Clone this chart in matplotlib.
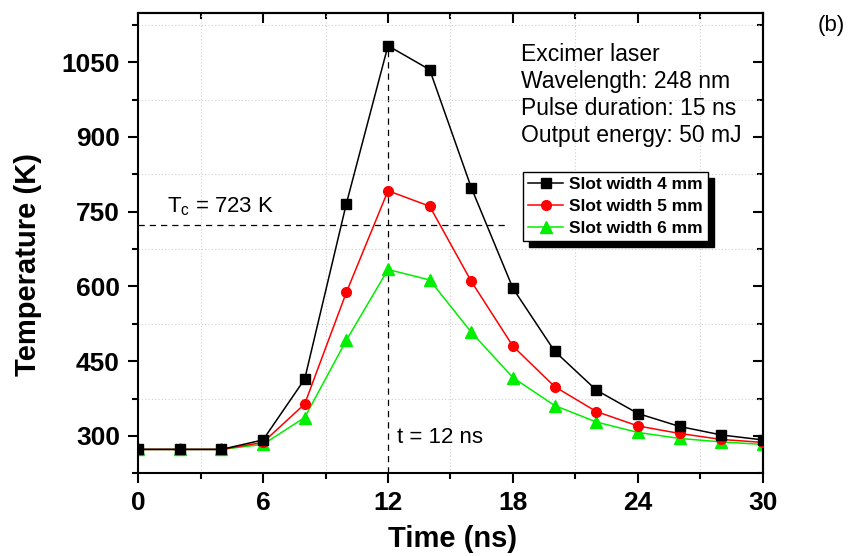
import matplotlib
matplotlib.use("Agg")
import matplotlib.pyplot as plt
from matplotlib.ticker import MultipleLocator

plt.rcParams['font.family'] = ['Liberation Sans', 'DejaVu Sans']
plt.rcParams['mathtext.fontset'] = 'custom'
plt.rcParams['mathtext.rm'] = 'Liberation Sans'

# Time axis (ns)
time_ns = [0, 2, 4, 6, 8, 10, 12, 14, 16, 18, 20, 22, 24, 26, 28, 30]

# Temperature (K) for each slot width
temp_4mm = [273, 273, 273, 292, 414, 766, 1083, 1035, 798, 596, 470, 392, 345, 319, 302, 292]
temp_5mm = [273, 273, 273, 287, 364, 588, 792, 761, 610, 480, 399, 349, 320, 305, 293, 287]
temp_6mm = [273, 273, 273, 283, 337, 492, 634, 613, 508, 417, 361, 328, 307, 295, 288, 283]

series_labels = ['Slot width 4 mm', 'Slot width 5 mm', 'Slot width 6 mm']

critical_temp = 723
peak_time = 12
peak_temp = 1083

fig = plt.figure(figsize=(8.52, 5.56), dpi=100)
ax = fig.add_axes([0.162, 0.1487, 0.7335, 0.8273])

ax.plot(time_ns, temp_4mm, color='black', marker='s', ms=6.5, lw=1.1,
        label=series_labels[0], zorder=4)
ax.plot(time_ns, temp_5mm, color='red', marker='o', ms=7, lw=1.1,
        label=series_labels[1], zorder=3)
ax.plot(time_ns, temp_6mm, color='#00ee00', marker='^', ms=8, lw=1.1,
        label=series_labels[2], zorder=2)

# Reference lines for the critical temperature and the peak time
ax.plot([0, 17.7], [critical_temp, critical_temp], color='black', lw=0.9,
        ls=(0, (5, 4)), zorder=1)
ax.plot([peak_time, peak_time], [225, peak_temp], color='black', lw=0.9,
        ls=(0, (5, 4)), zorder=1)

ax.set_xlim(0, 30)
ax.set_ylim(225, 1148)
ax.xaxis.set_major_locator(MultipleLocator(6))
ax.xaxis.set_minor_locator(MultipleLocator(3))
ax.yaxis.set_major_locator(MultipleLocator(150))
ax.yaxis.set_minor_locator(MultipleLocator(75))

ax.grid(which='minor', ls=(0, (1, 2)), color='#cfcfcf', lw=0.8)
ax.grid(which='major', visible=False)

for s in ax.spines.values():
    s.set_linewidth(1.5)

ax.tick_params(which='both', direction='out', width=1.5, labelsize=19, pad=6)
ax.tick_params(which='major', length=7)
ax.tick_params(which='minor', length=4.5)
for lab in ax.get_xticklabels() + ax.get_yticklabels():
    lab.set_fontweight('bold')

# Inward ticks on the top and right edges
top = ax.secondary_xaxis('top')
top.xaxis.set_major_locator(MultipleLocator(6))
top.xaxis.set_minor_locator(MultipleLocator(3))
top.tick_params(which='both', direction='in', width=1.5, labeltop=False)
top.tick_params(which='major', length=7)
top.tick_params(which='minor', length=4.5)
top.spines['top'].set_linewidth(1.5)
right = ax.secondary_yaxis('right')
right.yaxis.set_major_locator(MultipleLocator(150))
right.yaxis.set_minor_locator(MultipleLocator(75))
right.tick_params(which='both', direction='in', width=1.5, labelright=False)
right.tick_params(which='major', length=7)
right.tick_params(which='minor', length=4.5)
right.spines['right'].set_linewidth(1.5)

ax.set_xlabel('Time (ns)', fontsize=21, fontweight='bold')
ax.set_ylabel('Temperature (K)', fontsize=21, fontweight='bold')
ax.xaxis.set_label_coords(0.504, -0.112)
ax.yaxis.set_label_coords(-0.153, 0.455)

ax.text(1.4, 761, r'T$_\mathregular{c}$ = 723 K', fontsize=16, va='center', ha='left')
ax.text(12.45, 297, 't = 12 ns', fontsize=16, va='center', ha='left')

ax.text(18.4, 1088, 'Excimer laser\nWavelength: 248 nm\nPulse duration: 15 ns\nOutput energy: 50 mJ',
        fontsize=16.5, va='top', ha='left', linespacing=1.22)

fig.text(831 / 852, 1 - 25 / 556, '(b)', fontsize=16, ha='center', va='center')

leg = ax.legend(loc='upper left', bbox_to_anchor=(0.616, 0.655), borderaxespad=0,
                fancybox=False, edgecolor='black', framealpha=1,
                prop={'weight': 'bold', 'size': 12.5}, handlelength=2.0,
                handletextpad=0.35, labelspacing=0.38, borderpad=0.3,
                shadow={'ox': 4.5, 'oy': -4.5, 'color': 'black', 'alpha': 1})
leg.get_frame().set_linewidth(1.0)

fig.savefig('out.png', dpi=100)
